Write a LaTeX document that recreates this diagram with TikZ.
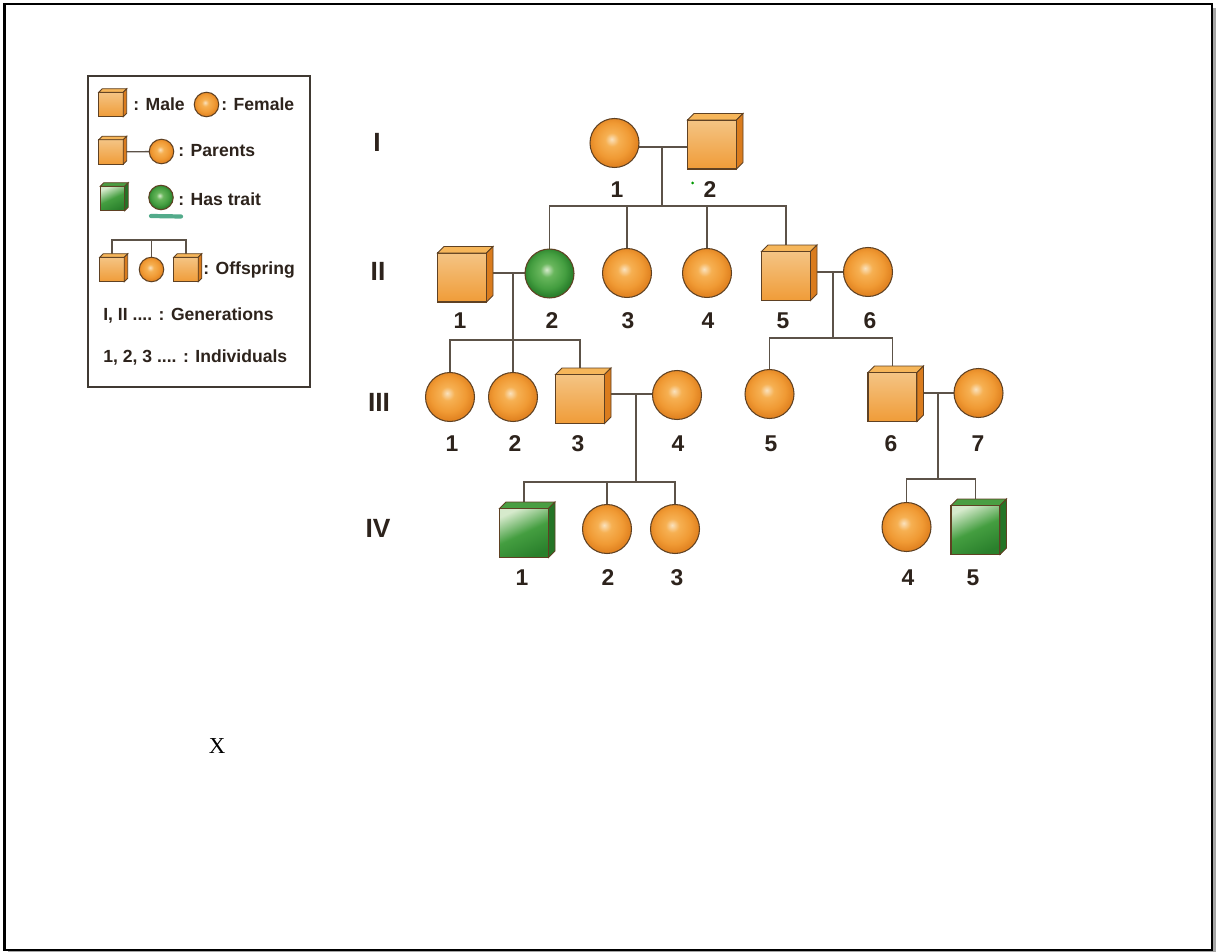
\documentclass[tikz,border=0pt]{standalone}
\usepackage{fontspec}
\setmainfont{Liberation Serif}
\setsansfont{Liberation Sans}
\usetikzlibrary{backgrounds}

\definecolor{edge}{RGB}{95,65,35}
\definecolor{wire}{RGB}{92,82,72}
\definecolor{ink}{RGB}{45,35,28}
\definecolor{orlight}{RGB}{250,226,190}
\definecolor{ormid}{RGB}{246,176,82}
\definecolor{orbody}{RGB}{240,154,52}
\definecolor{ordark}{RGB}{226,132,34}
\definecolor{ortop}{RGB}{246,182,90}
\definecolor{orside}{RGB}{218,124,30}
\definecolor{sqlight}{RGB}{244,196,132}
\definecolor{sqlow}{RGB}{240,156,56}
\definecolor{grlight}{RGB}{214,234,204}
\definecolor{grmid}{RGB}{104,182,92}
\definecolor{grbody}{RGB}{68,158,64}
\definecolor{grdark}{RGB}{42,128,44}
\definecolor{grtop}{RGB}{74,158,66}
\definecolor{grside}{RGB}{36,116,38}
\definecolor{smudge}{RGB}{40,150,110}

\pgfdeclareradialshading{orangeball}{\pgfpoint{-3bp}{4bp}}{color(0bp)=(orlight); color(7bp)=(ormid); color(18bp)=(orbody); color(25bp)=(ordark); color(50bp)=(ordark)}
\pgfdeclareradialshading{greenball}{\pgfpoint{-3bp}{4bp}}{color(0bp)=(grlight); color(7bp)=(grmid); color(18bp)=(grbody); color(25bp)=(grdark); color(50bp)=(grdark)}

% top and right faces of a box symbol: node, depth, colour prefix
\newcommand{\boxdepth}[3]{%
  \filldraw[draw=edge, line width=0.5pt, fill=#3top] (#1.north west) -- ++(#2,-#2) -- ([shift={(#2,-#2)}]#1.north east) -- (#1.north east) -- cycle;
  \filldraw[draw=edge, line width=0.5pt, fill=#3side] (#1.north east) -- ([shift={(#2,-#2)}]#1.north east) -- ([shift={(#2,-#2)}]#1.south east) -- (#1.south east) -- cycle;
}

\begin{document}
\begin{tikzpicture}[x=0.02cm, y=-0.02cm,
  female/.style={circle, draw=edge, line width=0.6pt, minimum size=0.98cm, inner sep=0pt, outer sep=0pt, shading=orangeball},
  female trait/.style={female, shading=greenball},
  male/.style={rectangle, draw=edge, line width=0.6pt, minimum size=0.98cm, inner sep=0pt, outer sep=0pt, top color=sqlight, bottom color=sqlow},
  male trait/.style={male, top color=grlight, bottom color=grdark, middle color=grbody, shading angle=25},
  keysize/.style={minimum size=0.49cm},
  wire/.style={draw=wire, line width=0.75pt},
  num/.style={text=ink, font=\sffamily\bfseries\fontsize{13}{15}\selectfont},
  gen/.style={text=ink, font=\sffamily\bfseries\fontsize{15}{18}\selectfont},
  key/.style={text=ink, font=\sffamily\bfseries\fontsize{10}{12}\selectfont, anchor=west, inner sep=0pt}]
\useasboundingbox (0,0) rectangle (1216,952);
\begin{scope}[on background layer]
\fill[white] (0,0) rectangle (1216,952);
\end{scope}

% page frame
\fill[gray!70] (1213,8) rectangle (1216,952);
\fill[gray!70] (8,951) rectangle (1216,952);
\draw[line width=1.4pt] (4.5,4) rectangle (1212,950);

% key
\draw[draw=wire!70!black, line width=0.8pt] (88,76) rectangle (310,387);
\node[male, keysize] (Lm) at (111,104.5) {};
\boxdepth{Lm}{3.5}{or}
\node[key] (tMale) at (133,104) {: Male};
\node[female, keysize] (Lf) at (206.5,104.5) {};
\node[key] (tFemale) at (221,104) {: Female};
\node[male, keysize] (Lpm) at (111,152) {};
\boxdepth{Lpm}{3.5}{or}
\node[female, keysize] (Lpf) at (161.5,151.5) {};
\node[key] (tParents) at (178,151) {: Parents};
\node[male trait, keysize] (Ltm) at (112.5,198.5) {};
\boxdepth{Ltm}{3.5}{gr}
\node[female trait, keysize] (Ltf) at (161,197.5) {};
\draw[smudge, opacity=0.8, line width=2.4pt, line cap=round] (151,216) -- (181,216.5);
\node[key] (tTrait) at (178,199) {: Has trait};
\node[male, keysize] (Lo1) at (112,269.5) {};
\boxdepth{Lo1}{3.5}{or}
\node[female, keysize] (Lo2) at (151.5,269.5) {};
\node[male, keysize] (Lo3) at (186,269.5) {};
\boxdepth{Lo3}{3.5}{or}
\node[key] (tOff) at (203,270) {: Offspring};
\coordinate (Lbar) at (151.5,240);
\node[key] (tGen) at (103,315) {I, II .... : Generations};
\node[key] (tInd) at (103,357) {1, 2, 3 .... : Individuals};

% generations
\node[gen] (gI) at (377,142) {I};
\node[gen] (gII) at (378,271) {II};
\node[gen] (gIII) at (379,402) {III};
\node[gen] (gIV) at (378,528) {IV};

% generation I
\node[female] (I1) at (614.5,143) {};
\node[male] (I2) at (712,144.5) {};
\boxdepth{I2}{6.5}{or}
\node[num] (nI1) at (617,190) {1};
\node[num] (nI2) at (710,190) {2};
\fill[green!60!black] (692.5,183) circle (1.5);

% generation II
\node[male] (II1) at (462,277.5) {};
\boxdepth{II1}{6.5}{or}
\node[female trait] (II2) at (549.5,273.5) {};
\node[female] (II3) at (627,273) {};
\node[female] (II4) at (707,273) {};
\node[male] (II5) at (786,276) {};
\boxdepth{II5}{6.5}{or}
\node[female] (II6) at (868,272) {};
\node[num] (nII1) at (460,321) {1};
\node[num] (nII2) at (552,321) {2};
\node[num] (nII3) at (628,321) {3};
\node[num] (nII4) at (708,321) {4};
\node[num] (nII5) at (783,321) {5};
\node[num] (nII6) at (870,321) {6};

% generation III
\node[female] (III1) at (450,397) {};
\node[female] (III2) at (513,397) {};
\node[male] (III3) at (580,399) {};
\boxdepth{III3}{6.5}{or}
\node[female] (III4) at (677,395) {};
\node[female] (III5) at (769.5,394) {};
\node[male] (III6) at (892.5,397) {};
\boxdepth{III6}{6.5}{or}
\node[female] (III7) at (978.5,393) {};
\node[num] (nIII1) at (452,444) {1};
\node[num] (nIII2) at (515,444) {2};
\node[num] (nIII3) at (578,444) {3};
\node[num] (nIII4) at (678,444) {4};
\node[num] (nIII5) at (771,444) {5};
\node[num] (nIII6) at (891,444) {6};
\node[num] (nIII7) at (978,444) {7};

% generation IV
\node[male trait] (IV1) at (524,533) {};
\boxdepth{IV1}{6.5}{gr}
\node[female] (IV2) at (607,529) {};
\node[female] (IV3) at (675,529) {};
\node[female] (IV4) at (906.5,527) {};
\node[male trait] (IV5) at (975.5,530) {};
\boxdepth{IV5}{6.5}{gr}
\node[num] (nIV1) at (522,578) {1};
\node[num] (nIV2) at (608,578) {2};
\node[num] (nIV3) at (677,578) {3};
\node[num] (nIV4) at (908,578) {4};
\node[num] (nIV5) at (973,578) {5};

\node[font=\fontsize{13}{15}\selectfont] (mark) at (217,746) {X};

% couples and sibship lines
\coordinate (m1) at (662,147);  \coordinate (b1) at (662,206);
\coordinate (m2) at (512,273);  \coordinate (b2) at (512,340);
\coordinate (m3) at (833,272);  \coordinate (b3) at (833,338);
\coordinate (m4) at (636,394);  \coordinate (b4) at (636,482);
\coordinate (m5) at (938,393);  \coordinate (b5) at (938,479);
\begin{scope}[on background layer]
\draw[wire] (Lpm) -- (Lpf);
\draw[wire] (Lo1) |- (Lbar) -| (Lo3);
\draw[wire] (Lo2) -- (Lbar);
\draw[wire] (I1 |- m1) -- (I2 |- m1);
\draw[wire] (m1) -- (b1);
\draw[wire] (II2) |- (b1) -| (II5);
\draw[wire] (II3) -- (II3 |- b1);
\draw[wire] (II4) -- (II4 |- b1);
\draw[wire] (II1 |- m2) -- (II2 |- m2);
\draw[wire] (m2) -- (III2 |- m2) -- (III2);
\draw[wire] (III1) |- (b2) -| (III3);
\draw[wire] (II5 |- m3) -- (II6 |- m3);
\draw[wire] (m3) -- (b3);
\draw[wire] (III5) |- (b3) -| (III6);
\draw[wire] (III3 |- m4) -- (III4 |- m4);
\draw[wire] (m4) -- (b4);
\draw[wire] (IV1) |- (b4) -| (IV3);
\draw[wire] (IV2) -- (IV2 |- b4);
\draw[wire] (III6 |- m5) -- (III7 |- m5);
\draw[wire] (m5) -- (b5);
\draw[wire] (IV4) |- (b5) -| (IV5);
\end{scope}
\end{tikzpicture}
\end{document}
